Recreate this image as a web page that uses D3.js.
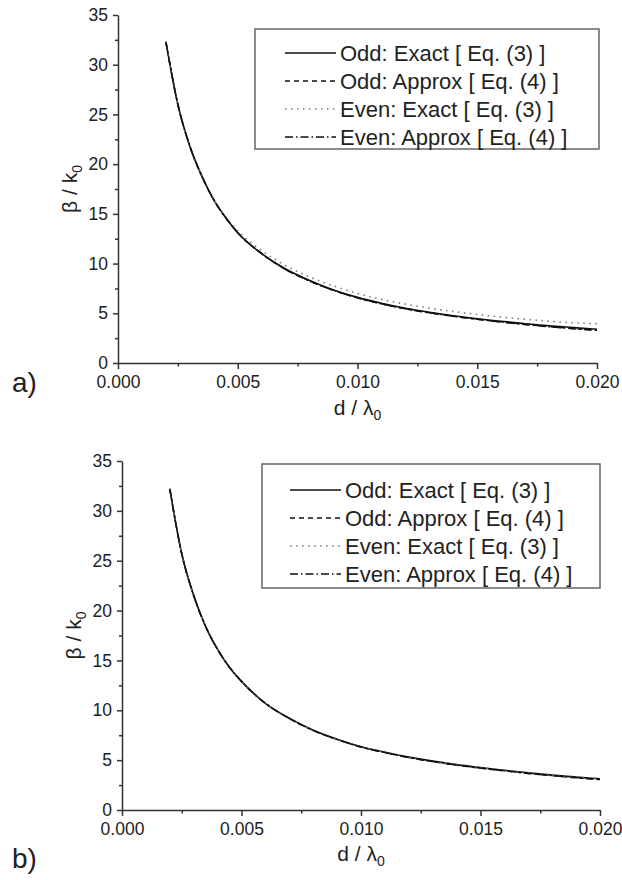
<!DOCTYPE html>
<html>
<head>
<meta charset="utf-8">
<script src="https://cdn.jsdelivr.net/npm/d3@7"></script>
<style>
  body { margin: 0; background: #fff; }
  svg text { font-family: "Liberation Sans", Arial, sans-serif; fill: #222; }
</style>
</head>
<body>
<svg id="chart_svg" width="622" height="880"></svg>
<script>
// d / lambda0 sample points
const dValues = [0.002, 0.0025, 0.003, 0.0035, 0.004, 0.0045, 0.005, 0.006, 0.007, 0.008, 0.009,
  0.010, 0.011, 0.012, 0.013, 0.014, 0.015, 0.016, 0.017, 0.018, 0.019, 0.020];

// panel a)
const oddExactA   = [32.3, 26.0, 21.8, 18.8, 16.4, 14.6, 13.1, 11.0, 9.45, 8.3, 7.35, 6.6, 6.0, 5.5, 5.1, 4.75, 4.45, 4.2, 3.95, 3.75, 3.57, 3.4];
const oddApproxA  = [32.3, 26.0, 21.8, 18.8, 16.4, 14.6, 13.1, 11.0, 9.4, 8.25, 7.3, 6.55, 5.95, 5.45, 5.05, 4.7, 4.4, 4.13, 3.88, 3.66, 3.47, 3.3];
const evenExactA  = [32.3, 26.0, 21.8, 18.8, 16.4, 14.7, 13.3, 11.3, 9.8, 8.65, 7.75, 7.0, 6.4, 5.92, 5.52, 5.18, 4.88, 4.62, 4.4, 4.2, 4.05, 3.95];
const evenApproxA = [32.3, 26.0, 21.8, 18.8, 16.4, 14.6, 13.1, 11.0, 9.4, 8.25, 7.3, 6.55, 5.95, 5.45, 5.05, 4.7, 4.4, 4.12, 3.87, 3.65, 3.45, 3.28];

// panel b)
const oddExactB   = [32.2, 25.7, 21.5, 18.4, 16.1, 14.3, 12.9, 10.7, 9.2, 8.0, 7.1, 6.35, 5.8, 5.3, 4.9, 4.55, 4.25, 3.98, 3.72, 3.5, 3.3, 3.12];
const oddApproxB  = [32.2, 25.7, 21.5, 18.4, 16.1, 14.3, 12.9, 10.7, 9.18, 7.98, 7.07, 6.32, 5.76, 5.26, 4.86, 4.5, 4.2, 3.93, 3.67, 3.45, 3.24, 3.05];
const evenExactB  = [32.2, 25.7, 21.5, 18.4, 16.1, 14.3, 12.9, 10.7, 9.2, 8.0, 7.1, 6.36, 5.8, 5.31, 4.91, 4.56, 4.26, 3.99, 3.73, 3.51, 3.31, 3.13];
const evenApproxB = [32.2, 25.7, 21.5, 18.4, 16.1, 14.3, 12.9, 10.7, 9.18, 7.98, 7.07, 6.32, 5.76, 5.26, 4.86, 4.5, 4.2, 3.93, 3.67, 3.45, 3.24, 3.05];

const xTicks = [0, 0.005, 0.010, 0.015, 0.020];
const xMinorTicks = [0.0025, 0.0075, 0.0125, 0.0175];
const yTicks = [0, 5, 10, 15, 20, 25, 30, 35];
const yMinorTicks = [2.5, 7.5, 12.5, 17.5, 22.5, 27.5, 32.5];
const legendLabels = ["Odd: Exact [ Eq. (3) ]", "Odd: Approx [ Eq. (4) ]",
  "Even: Exact [ Eq. (3) ]", "Even: Approx [ Eq. (4) ]"];
const panelLabels = ["a)", "b)"];

// line styles, same order as legend
const lineStyles = [
  { stroke: "#111", dash: null, width: 1.6 },
  { stroke: "#111", dash: "5,4", width: 1.5 },
  { stroke: "#7a7a7a", dash: "1.5,4.5", width: 1.6 },
  { stroke: "#111", dash: "8,3,1.5,3", width: 1.5 }
];

const svg = d3.select("#chart_svg");

function drawPanel(cfg) {
  const g = svg.append("g");
  const xScale = d3.scaleLinear().domain([0, 0.02]).range([cfg.left, cfg.right]);
  const yScale = d3.scaleLinear().domain([0, 35]).range([cfg.bottom, cfg.top]);

  // y axis: major + minor ticks
  g.append("g").attr("transform", `translate(${cfg.left},0)`)
    .call(d3.axisLeft(yScale).tickValues(yTicks).tickSize(5).tickSizeOuter(0).tickPadding(5));
  g.append("g").attr("transform", `translate(${cfg.left},0)`)
    .call(d3.axisLeft(yScale).tickValues(yMinorTicks).tickSize(3).tickFormat(""))
    .call(a => a.select(".domain").remove());

  // x axis
  g.append("g").attr("transform", `translate(0,${cfg.bottom})`)
    .call(d3.axisBottom(xScale).tickValues(xTicks).tickSize(6).tickSizeOuter(0)
      .tickPadding(7).tickFormat(d3.format(".3f")));
  g.append("g").attr("transform", `translate(0,${cfg.bottom})`)
    .call(d3.axisBottom(xScale).tickValues(xMinorTicks).tickSize(3.5).tickFormat(""))
    .call(a => a.select(".domain").remove());

  g.selectAll(".domain, .tick line").attr("stroke", "#333").attr("stroke-width", 1.5);
  g.selectAll(".tick text").style("font-size", "17.5px").attr("fill", "#222");

  // curves
  const line = d3.line()
    .x((d, i) => xScale(dValues[i]))
    .y(d => yScale(d))
    .curve(d3.curveMonotoneX);

  g.selectAll("path.curve").data(cfg.series).join("path")
    .attr("class", "curve")
    .attr("fill", "none")
    .attr("d", line)
    .attr("stroke", (d, i) => lineStyles[i].stroke)
    .attr("stroke-width", (d, i) => lineStyles[i].width)
    .attr("stroke-dasharray", (d, i) => lineStyles[i].dash);

  // axis titles
  const yTitle = g.append("text")
    .attr("transform", `translate(${cfg.left - 41},${(cfg.top + cfg.bottom) / 2}) rotate(-90)`)
    .attr("text-anchor", "middle")
    .style("font-size", "21px");
  yTitle.append("tspan").text("β / k");
  yTitle.append("tspan").attr("dy", 5).style("font-size", "14px").text("0");

  const xTitle = g.append("text")
    .attr("x", (cfg.left + cfg.right) / 2)
    .attr("y", cfg.xTitleY)
    .attr("text-anchor", "middle")
    .style("font-size", "21px");
  xTitle.append("tspan").text("d / λ");
  xTitle.append("tspan").attr("dy", 5).style("font-size", "14px").text("0");

  g.append("text")
    .attr("x", 12)
    .attr("y", cfg.labelY)
    .style("font-size", "28px")
    .text(cfg.label);

  // legend
  const lg = g.append("g").attr("transform", `translate(${cfg.legend.x},${cfg.legend.y})`);
  lg.append("rect")
    .attr("width", cfg.legend.w).attr("height", cfg.legend.h)
    .attr("fill", "#fff").attr("stroke", "#666").attr("stroke-width", 1.5);
  const rows = lg.selectAll("g.row").data(legendLabels).join("g")
    .attr("class", "row")
    .attr("transform", (d, i) => `translate(0,${cfg.legend.firstRow + i * cfg.legend.rowGap})`);
  rows.append("line")
    .attr("x1", cfg.legend.lineX0).attr("x2", cfg.legend.lineX1)
    .attr("stroke", (d, i) => lineStyles[i].stroke)
    .attr("stroke-width", (d, i) => lineStyles[i].width)
    .attr("stroke-dasharray", (d, i) => lineStyles[i].dash);
  rows.append("text")
    .attr("x", cfg.legend.lineX1 + 4)
    .attr("dy", "0.36em")
    .style("font-size", "22px")
    .text(d => d);
}

drawPanel({
  left: 118, right: 597, top: 15, bottom: 363,
  xTitleY: 415, labelY: 392, label: panelLabels[0],
  series: [oddExactA, oddApproxA, evenExactA, evenApproxA],
  legend: { x: 255, y: 29, w: 344, h: 120, firstRow: 24, rowGap: 28, lineX0: 30, lineX1: 81 }
});

drawPanel({
  left: 122, right: 600, top: 461, bottom: 810,
  xTitleY: 861, labelY: 868, label: panelLabels[1],
  series: [oddExactB, oddApproxB, evenExactB, evenApproxB],
  legend: { x: 262, y: 464, w: 338, h: 124, firstRow: 26, rowGap: 28, lineX0: 28, lineX1: 79 }
});
</script>
</body>
</html>
